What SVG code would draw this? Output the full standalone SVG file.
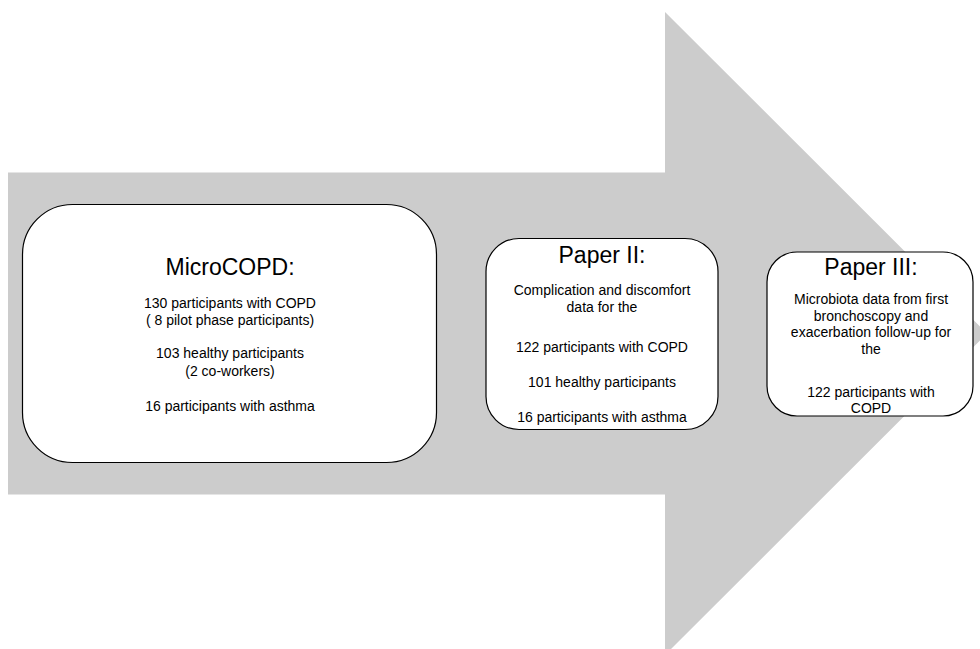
<svg xmlns="http://www.w3.org/2000/svg" width="980" height="649" viewBox="0 0 980 649">
<style>
.box{fill:#ffffff;stroke:#000000;stroke-width:1.2}
.t{font-family:"Liberation Sans",Arial,sans-serif;fill:#000000;text-anchor:middle}
.h{font-size:23px}
.b{font-size:14px}
</style>
<rect width="980" height="649" fill="#ffffff"/>
<g id="arrow">
<polygon points="8,172.5 665,172.5 665,12 987,333.5 665,655 665,494.5 8,494.5" fill="#cccccc"/>
</g>
<g id="connectors"></g>
<g id="microcopd">
<rect class="box" x="22.5" y="204.5" width="414" height="258" rx="50" ry="50"/>
<text class="t h" x="230" y="275">MicroCOPD:</text>
<text class="t b" x="230" y="308">130 participants with COPD</text>
<text class="t b" x="230" y="325">( 8 pilot phase participants)</text>
<text class="t b" x="230" y="358">103 healthy participants</text>
<text class="t b" x="230" y="376">(2 co-workers)</text>
<text class="t b" x="230" y="411">16 participants with asthma</text>
</g>
<g id="paper2">
<rect class="box" x="486" y="238.5" width="232" height="191" rx="33" ry="33"/>
<text class="t h" x="602" y="263">Paper II:</text>
<text class="t b" x="602" y="295">Complication and discomfort</text>
<text class="t b" x="602" y="311.5">data for the</text>
<text class="t b" x="602" y="351.5">122 participants with COPD</text>
<text class="t b" x="602" y="386.5">101 healthy participants</text>
<text class="t b" x="602" y="421.5">16 participants with asthma</text>
</g>
<g id="paper3">
<rect class="box" x="767" y="252" width="206" height="164" rx="30" ry="30"/>
<text class="t h" x="871" y="275">Paper III:</text>
<text class="t b" x="871" y="304">Microbiota data from first</text>
<text class="t b" x="871" y="320.5">bronchoscopy and</text>
<text class="t b" x="871" y="337">exacerbation follow-up for</text>
<text class="t b" x="871" y="354">the</text>
<text class="t b" x="871" y="396.5">122 participants with</text>
<text class="t b" x="871" y="413">COPD</text>
</g>
</svg>
